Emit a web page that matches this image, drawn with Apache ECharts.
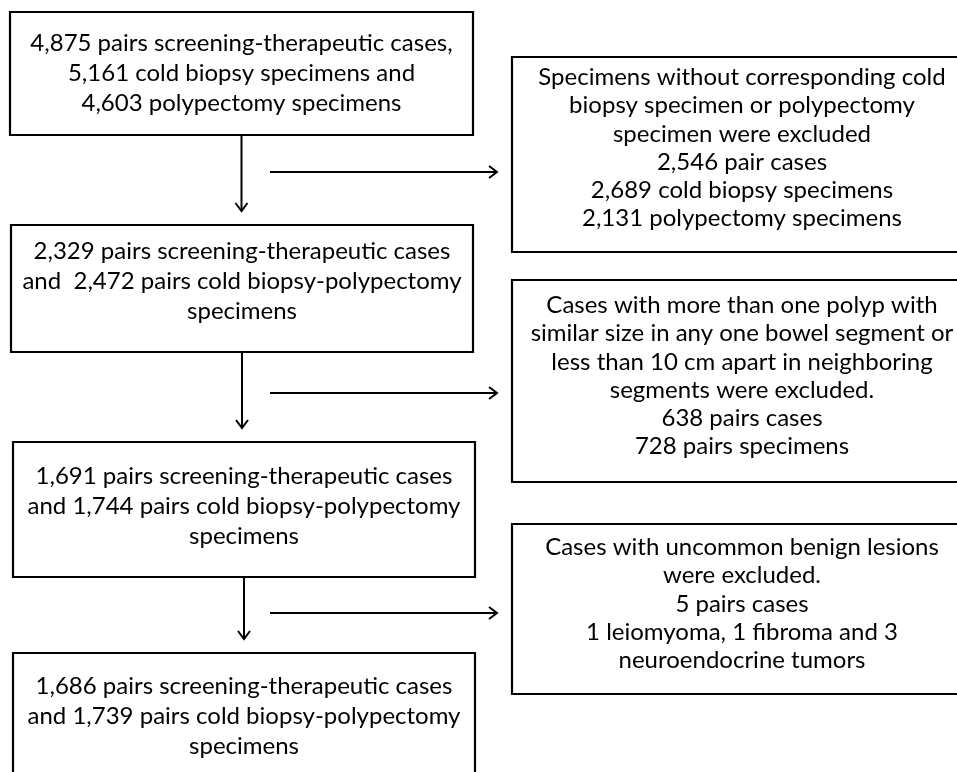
<!DOCTYPE html>
<html>
<head>
<meta charset="utf-8">
<script src="https://cdn.jsdelivr.net/npm/echarts@6/dist/echarts.min.js"></script>
<style>
  html, body { margin: 0; padding: 0; background: #fff; }
  #chart { width: 957px; height: 772px; }
</style>
</head>
<body>
<div id="chart"></div>
<script>
// left column: the cohort at each stage
var stageText = [
  ['4,875 pairs screening-therapeutic cases,', '5,161 cold biopsy specimens and', '4,603 polypectomy specimens'],
  ['2,329 pairs screening-therapeutic cases', 'and  2,472 pairs cold biopsy-polypectomy', 'specimens'],
  ['1,691 pairs screening-therapeutic cases', 'and 1,744 pairs cold biopsy-polypectomy', 'specimens'],
  ['1,686 pairs screening-therapeutic cases', 'and 1,739 pairs cold biopsy-polypectomy', 'specimens']
];
// right column: what was excluded between stages
var exclText = [
  ['Specimens without corresponding cold', 'biopsy specimen or polypectomy', 'specimen were excluded',
   '2,546 pair cases', '2,689 cold biopsy specimens', '2,131 polypectomy specimens'],
  ['Cases with more than one polyp with', 'similar size in any one bowel segment or', 'less than 10 cm apart in neighboring',
   'segments were excluded.', '638 pairs cases', '728 pairs specimens'],
  ['Cases with uncommon benign lesions', 'were excluded.', '5 pairs cases',
   '1 leiomyoma, 1 fibroma and 3', 'neuroendocrine tumors']
];

// layout, in units of the hidden axes (x0, y0, x1, y1, text centre y)
var stageBox = [[10, 12, 473, 135, 73], [11, 225, 473, 352, 281], [13, 442, 475, 577, 506], [13, 653, 475, 782, 716]];
var exclBox = [[512, 57, 972, 252, 148], [512, 280, 972, 482, 376], [512, 524, 972, 694, 604]];
var exclArrowY = [172, 393, 613];
var exclArrowX = [270, 497];

var FONT = '24px Lato';

var chart = echarts.init(document.getElementById('chart'));

function boxItem(lines, lh) {
  return function (params, api) {
    var p0 = api.coord([api.value(0), api.value(1)]);
    var p1 = api.coord([api.value(2), api.value(3)]);
    var ty = api.coord([0, api.value(4)])[1];
    return {
      type: 'group',
      children: [
        { type: 'rect', shape: { x: p0[0], y: p0[1], width: p1[0] - p0[0], height: p1[1] - p0[1] },
          style: { fill: '#fff', stroke: '#000', lineWidth: 2.2 } },
        { type: 'text', x: (p0[0] + p1[0]) / 2, y: ty,
          style: { text: lines[params.dataIndex].join('\n'), align: 'center', verticalAlign: 'middle',
                   font: FONT, lineHeight: lh, fill: '#000' } }
      ]
    };
  };
}

// arrows: [x0, y0, x1, y1]
var arrows = [];
for (var i = 0; i < stageBox.length - 1; i++) {
  var cx = (stageBox[i][0] + stageBox[i][2]) / 2;
  arrows.push([cx, stageBox[i][3], cx, stageBox[i + 1][1] - 14]);
}
exclArrowY.forEach(function (y) { arrows.push([exclArrowX[0], y, exclArrowX[1], y]); });

function arrowItem(params, api) {
  var a = api.coord([api.value(0), api.value(1)]);
  var b = api.coord([api.value(2), api.value(3)]);
  var dx = b[0] - a[0], dy = b[1] - a[1], len = Math.sqrt(dx * dx + dy * dy);
  var ux = dx / len, uy = dy / len, hl = 8, hw = 6;
  var s = { stroke: '#000', lineWidth: 2, fill: null };
  return {
    type: 'group',
    children: [
      { type: 'line', shape: { x1: a[0], y1: a[1], x2: b[0], y2: b[1] }, style: s },
      { type: 'polyline', shape: { points: [
          [b[0] - ux * hl - uy * hw, b[1] - uy * hl + ux * hw],
          [b[0], b[1]],
          [b[0] - ux * hl + uy * hw, b[1] - uy * hl - ux * hw]] }, style: s }
    ]
  };
}

var option = {
  animation: false,
  backgroundColor: '#fff',
  grid: { left: 0, right: 0, top: 0, bottom: 0 },
  xAxis: { type: 'value', min: 0, max: 957, show: false },
  yAxis: { type: 'value', min: 0, max: 772, inverse: true, show: false },
  series: [
    { type: 'custom', renderItem: arrowItem, data: arrows, encode: { x: [0, 2], y: [1, 3] } },
    { type: 'custom', renderItem: boxItem(stageText, 30), data: stageBox, encode: { x: [0, 2], y: [1, 3] } },
    { type: 'custom', renderItem: boxItem(exclText, 28.3), data: exclBox, encode: { x: [0, 2], y: [1, 3] } }
  ]
};
chart.setOption(option);
</script>
</body>
</html>
